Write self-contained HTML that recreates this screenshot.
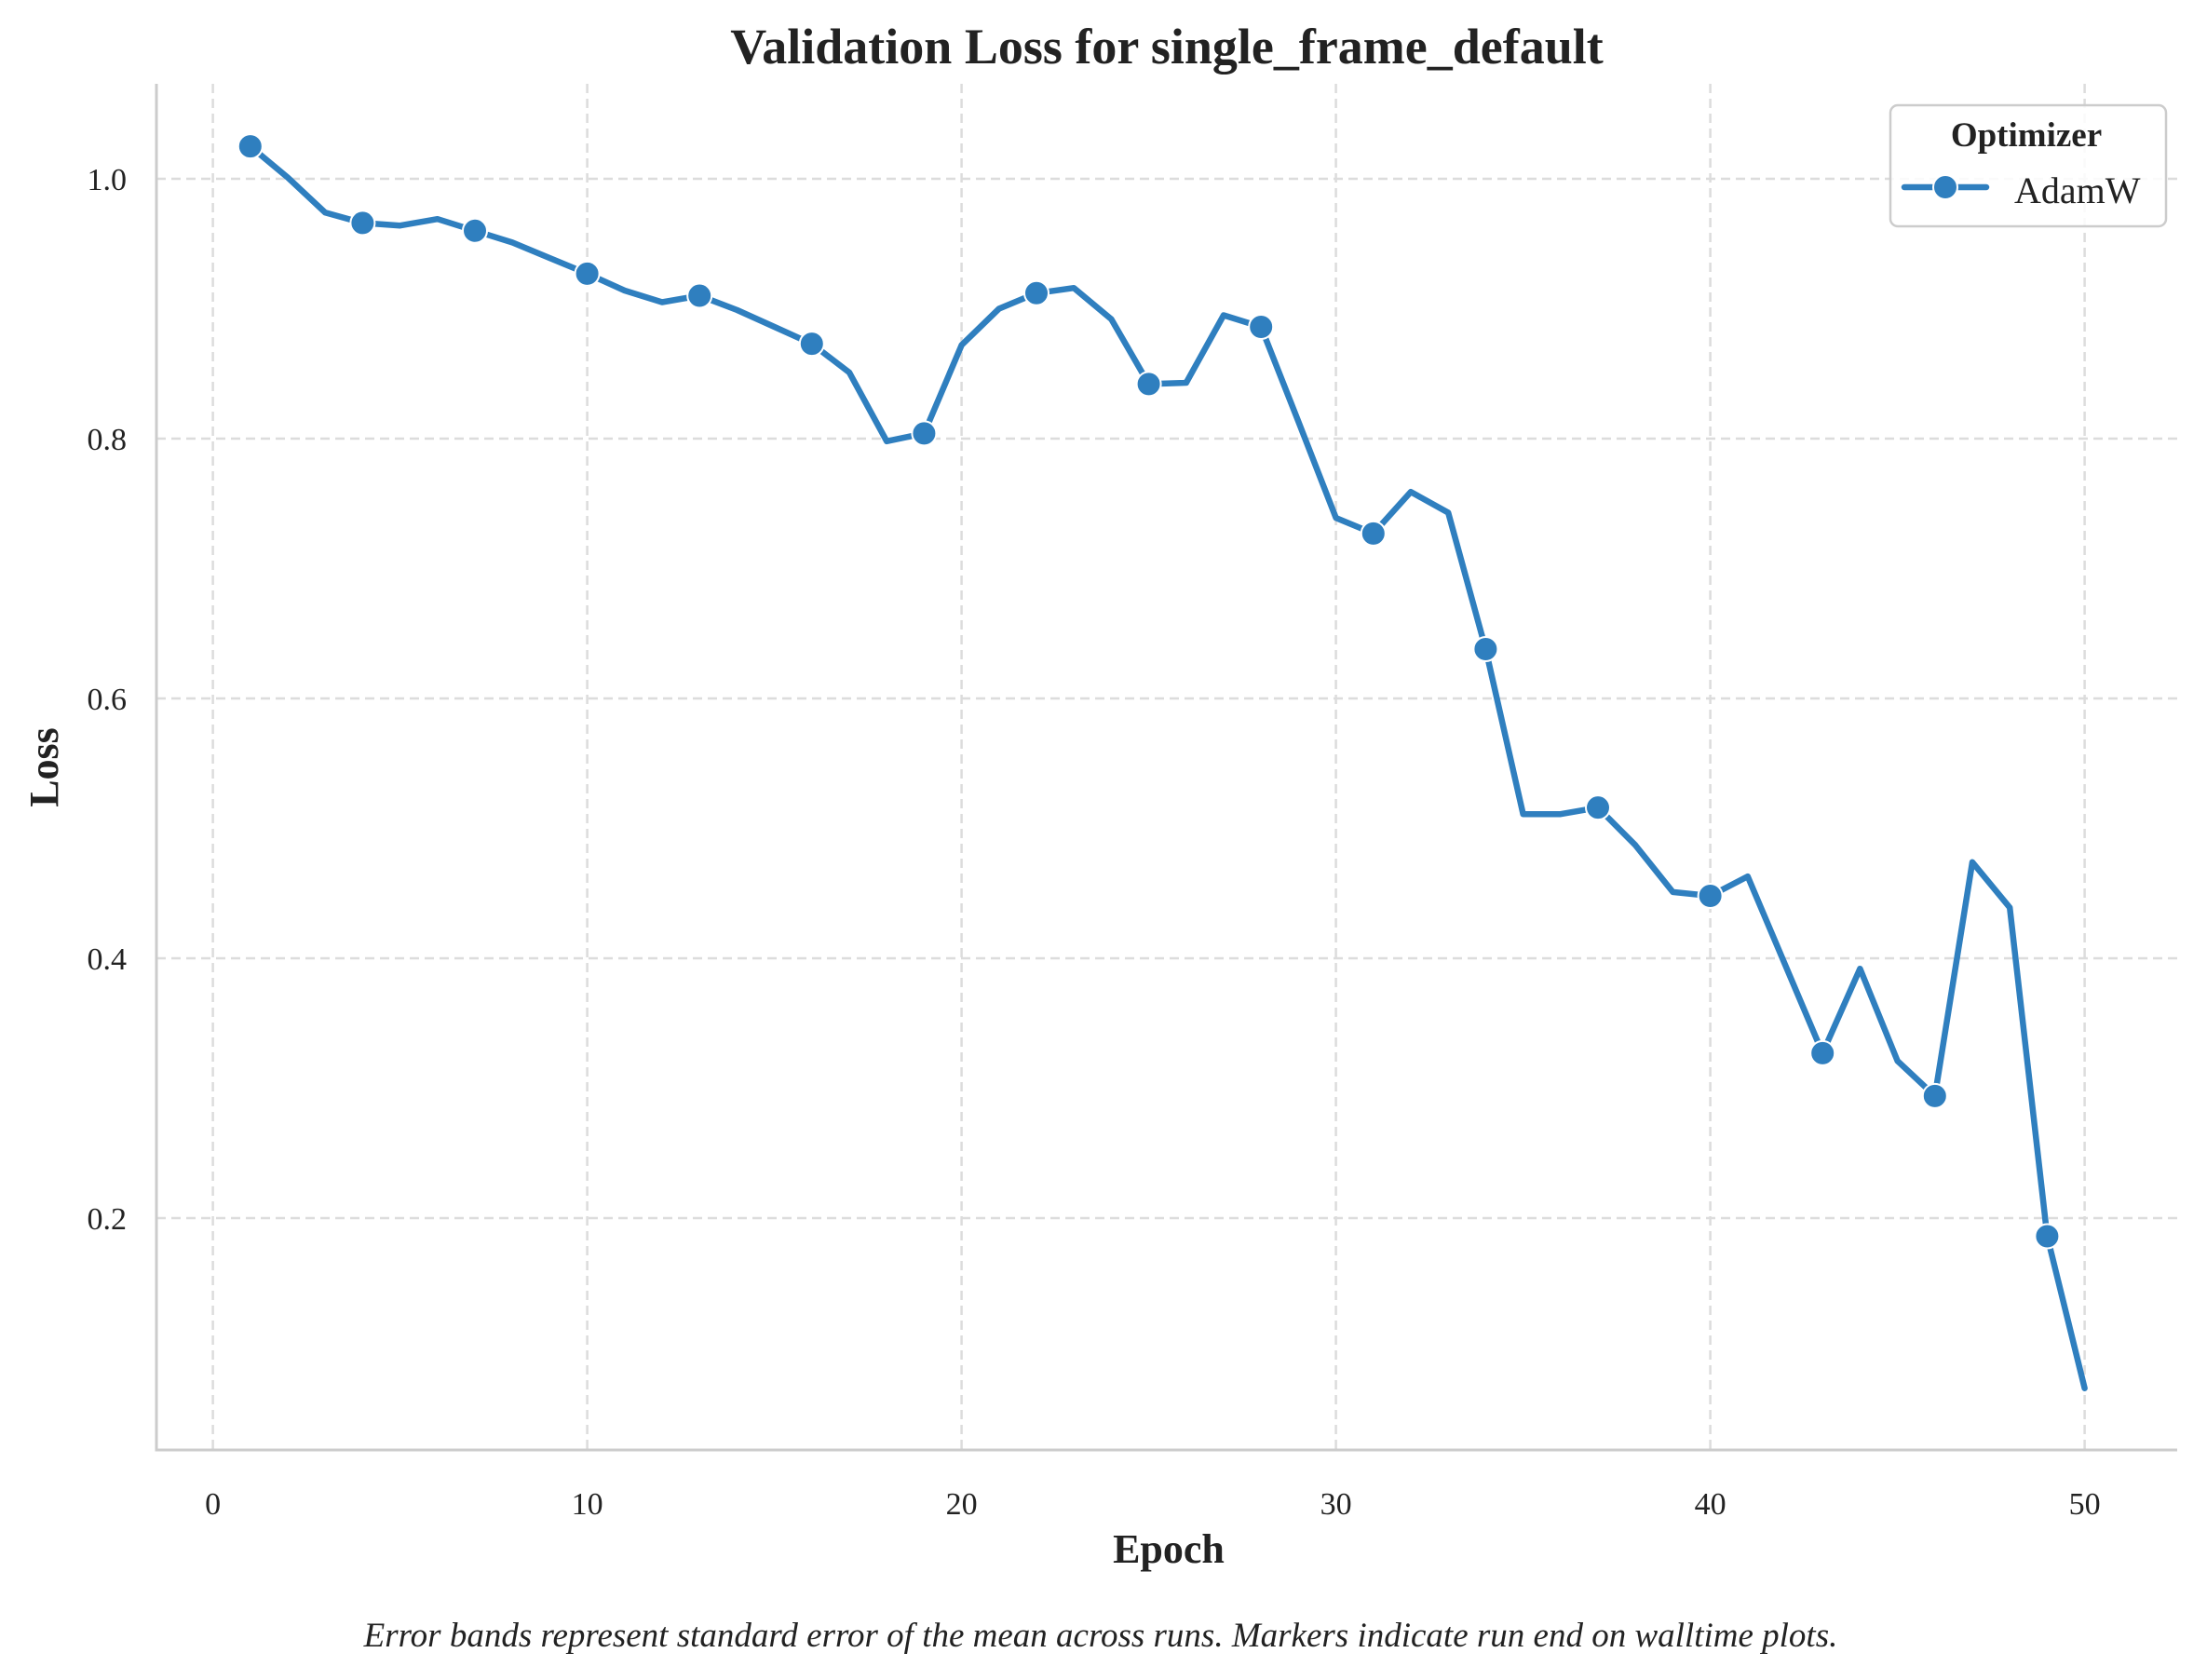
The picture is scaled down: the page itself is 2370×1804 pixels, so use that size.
<!DOCTYPE html>
<html><head><meta charset="utf-8">
<style>
html,body{margin:0;padding:0;background:#fff;}
svg{display:block;font-family:"Liberation Serif","DejaVu Serif",serif;}
</style></head>
<body>
<svg id="chart" width="2370" height="1804" viewBox="0 0 2370 1804" xmlns="http://www.w3.org/2000/svg">
<rect width="2370" height="1804" fill="#fff"/>
<g id="grid"></g>
<g id="axes"></g>
<g id="series"></g>
<text x="1253" y="68" text-anchor="middle" font-size="54" font-weight="bold" fill="#222">Validation Loss for single_frame_default</text>
<text x="1255" y="1678" text-anchor="middle" font-size="44" font-weight="bold" fill="#222">Epoch</text>
<text transform="translate(62,824) rotate(-90)" text-anchor="middle" font-size="44" font-weight="bold" fill="#222">Loss</text>
<text x="1182" y="1768" text-anchor="middle" font-size="37" font-style="italic" fill="#222">Error bands represent standard error of the mean across runs. Markers indicate run end on walltime plots.</text>
<g>
<rect x="2030" y="113" width="296" height="130" rx="8" fill="#fff" fill-opacity="0.85" stroke="#cccccc" stroke-width="2.5"/>
<text x="2176" y="157" text-anchor="middle" font-size="37" font-weight="bold" fill="#222">Optimizer</text>
<line x1="2045" y1="201" x2="2133" y2="201" stroke="#2f7fbf" stroke-width="6.5" stroke-linecap="round"/>
<circle cx="2089" cy="201" r="13" fill="#2f7fbf" stroke="#fff" stroke-width="2"/>
<text x="2163" y="218" font-size="40" fill="#222">AdamW</text>
</g>
</svg>
<script>
const epochs = [1,2,3,4,5,6,7,8,9,10,11,12,13,14,15,16,17,18,19,20,21,22,23,24,25,26,27,28,29,30,31,32,33,34,35,36,37,38,39,40,41,42,43,44,45,46,47,48,49,50];
const lossValues = [1.025,1.001,0.974,0.966,0.964,0.969,0.960,0.951,0.939,0.927,0.914,0.905,0.910,0.899,0.886,0.873,0.851,0.798,0.804,0.872,0.900,0.912,0.916,0.892,0.842,0.843,0.895,0.886,0.813,0.739,0.727,0.759,0.743,0.638,0.511,0.511,0.516,0.487,0.451,0.448,0.463,0.395,0.327,0.392,0.321,0.294,0.474,0.439,0.186,0.069];
const xTicks = [0,10,20,30,40,50];
const yTicks = [0.2,0.4,0.6,0.8,1.0];
const yTickLabels = ["0.2","0.4","0.6","0.8","1.0"];

const NS = "http://www.w3.org/2000/svg";
function xScale(v){ return 228.6 + v * 40.2; }
function yScale(v){ return 192 + (1.0 - v) * 1395; }
function mk(tag, attrs, parent){
  const el = document.createElementNS(NS, tag);
  for (const k in attrs) el.setAttribute(k, attrs[k]);
  parent.appendChild(el);
  return el;
}
const grid = document.getElementById('grid');
const axes = document.getElementById('axes');
const series = document.getElementById('series');

xTicks.forEach(t => {
  const g = mk('line', {x1:xScale(t), x2:xScale(t), y1:90, y2:1557, stroke:'#dcdcdc', 'stroke-width':2.5, 'stroke-dasharray':'10,6'}, grid);
  
  
  const lbl = mk('text', {x:xScale(t), y:1626, 'text-anchor':'middle', 'font-size':34, fill:'#222'}, axes);
  lbl.textContent = String(t);
  
  
});
yTicks.forEach((t, i) => {
  const g = mk('line', {x1:168, x2:2338, y1:yScale(t), y2:yScale(t), stroke:'#dcdcdc', 'stroke-width':2.5, 'stroke-dasharray':'10,6'}, grid);
  
  
  const lbl = mk('text', {x:136, y:yScale(t)+12, 'text-anchor':'end', 'font-size':34, fill:'#222'}, axes);
  lbl.textContent = yTickLabels[i];
  
  
});
const ys = mk('line', {x1:168, x2:168, y1:90, y2:1557, stroke:'#cccccc', 'stroke-width':3}, axes);


const xs = mk('line', {x1:166.5, x2:2338, y1:1557, y2:1557, stroke:'#cccccc', 'stroke-width':3}, axes);



const pts = epochs.map((e, i) => xScale(e).toFixed(1) + ',' + yScale(lossValues[i]).toFixed(1)).join(' ');
const line = mk('polyline', {points:pts, fill:'none', stroke:'#2f7fbf', 'stroke-width':6.5, 'stroke-linejoin':'round', 'stroke-linecap':'round'}, series);


epochs.forEach((e, i) => {
  if ((e - 1) % 3 !== 0) return;
  const c = mk('circle', {cx:xScale(e), cy:yScale(lossValues[i]), r:13, fill:'#2f7fbf', stroke:'#fff', 'stroke-width':2}, series);
  
  
});
</script>
</body></html>
